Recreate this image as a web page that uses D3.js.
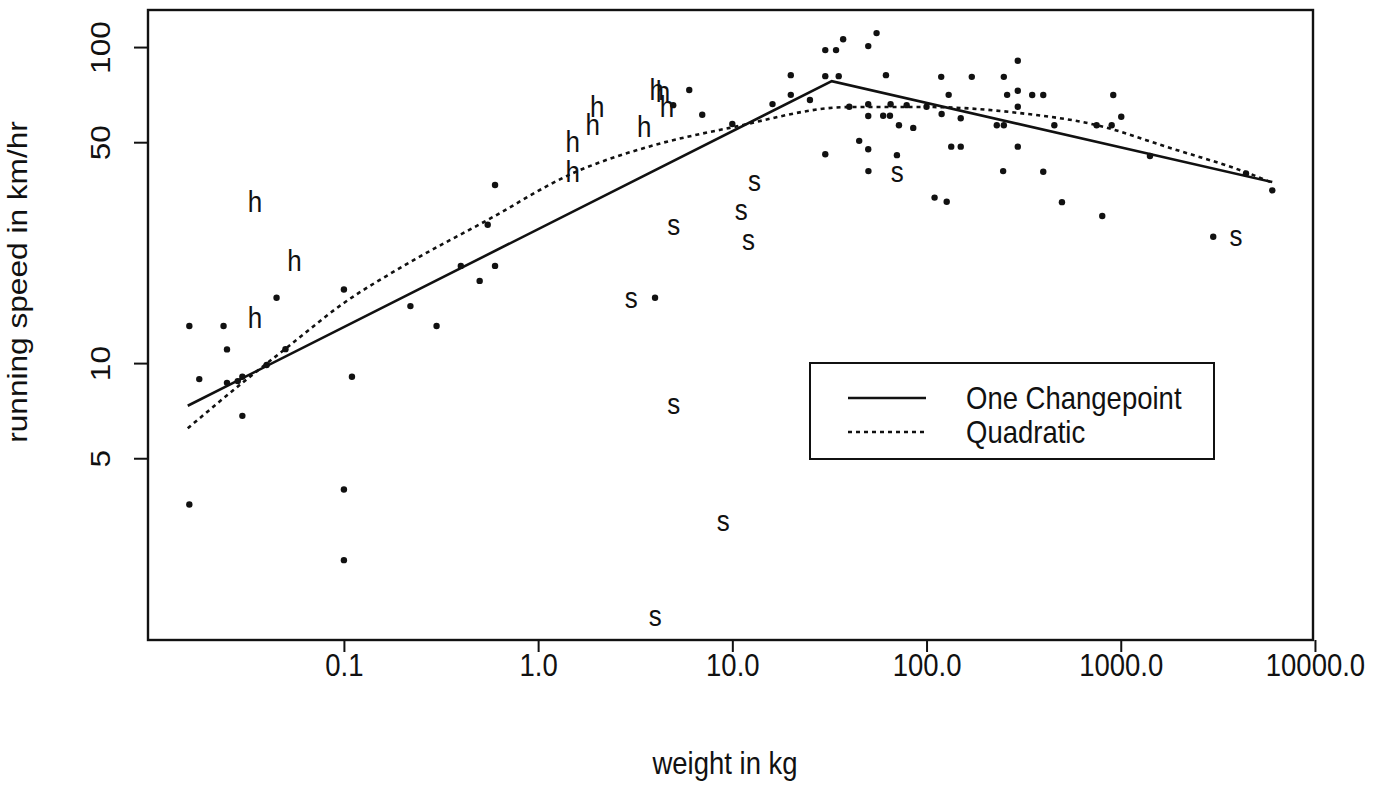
<!DOCTYPE html>
<html>
<head>
<meta charset="utf-8">
<script src="https://cdn.jsdelivr.net/npm/d3@7"></script>
<style>
  html, body { margin: 0; padding: 0; background: #fff; }
  svg { display: block; }
  text { font-family: "Liberation Sans", Arial, Helvetica, sans-serif; fill: #111; }
</style>
</head>
<body>
<svg id="chart" width="1386" height="785"></svg>
<script>
// ---- data ----
const dotWeight = [0.016, 0.024, 0.045, 0.1, 0.025, 0.018, 0.025, 0.03, 0.0284, 0.05, 0.04, 0.03, 0.11, 0.016, 0.1, 0.1,
  0.6, 0.55, 0.6, 0.4, 0.5, 0.22, 0.3, 6.0, 7.0, 4.0, 4.96, 10,
  55.3, 37.2, 50.1, 30.1, 34.2, 20, 30.1, 35.3, 61.8, 119, 171, 250, 295,
  20, 130, 260, 295, 25.1, 16.1, 40, 50.1, 65.3, 79, 100, 295,
  50.1, 59.8, 64.8, 119.6, 150, 72.1, 85.4, 230, 250,
  45, 50.1, 134, 150, 295, 30.1, 70.4, 50.2, 248, 110, 127,
  350, 399, 915, 1006, 455, 751, 898, 399, 498, 803, 1414, 4414, 6028, 2994];
const dotSpeed = [13.1, 13.1, 16.1, 17.1, 11.05, 8.9, 8.66, 9.05, 8.77, 11.07, 9.86, 6.81, 9.05, 3.57, 3.98, 2.38,
  36.6, 27.4, 20.3, 20.3, 18.2, 15.15, 13.1, 73.1, 61.1, 16.1, 65.5, 57.1,
  110.7, 105.8, 100.7, 97.8, 97.8, 81.5, 80.9, 80.9, 81.5, 80.5, 80.5, 80.5, 90.5,
  70.6, 70.6, 70.6, 72.7, 68.0, 66.0, 64.7, 65.9, 65.9, 65.5, 64.7, 64.7,
  60.5, 60.6, 60.6, 61.4, 59.5, 56.6, 55.5, 56.6, 56.6,
  50.5, 47.5, 48.4, 48.4, 48.4, 45.8, 45.5, 40.5, 40.5, 33.4, 32.4,
  70.5, 70.5, 70.5, 60.2, 56.6, 56.6, 56.6, 40.3, 32.3, 29.2, 45.2, 39.8, 35.2, 25.1];

const hopperWeight = [0.0348, 0.0556, 0.0348, 1.506, 1.506, 2.015, 1.908, 3.52, 4.08, 4.39, 4.61];
const hopperSpeed  = [32.3, 21.0, 13.9, 50.0, 40.2, 64.6, 56.6, 56.0, 73.1, 72.1, 64.6];

const slowWeight = [5.0, 3.02, 5.0, 8.98, 4.01, 13.0, 11.1, 12.1, 70.7, 3920];
const slowSpeed  = [27.3, 16.1, 7.42, 3.16, 1.59, 37.7, 30.5, 24.5, 40.4, 25.2];

const changepointWeight = [0.0157, 32.5, 6028];
const changepointSpeed  = [7.33, 78.0, 37.4];

const quadraticWeight = [0.0157, 0.0299, 0.0497, 0.1, 0.2056, 0.551, 1.51, 3.75, 9.69, 40.3, 100.5, 303, 754, 1726, 4790, 6028];
const quadraticSpeed  = [6.22, 8.65, 11.07, 15.5, 20.4, 28.4, 39.9, 48.5, 55.5, 64.6, 64.6, 61.8, 56.6, 48.3, 39.4, 37.2];

const xTicks = [0.1, 1, 10, 100, 1000, 10000];
const xTickLabels = ["0.1", "1.0", "10.0", "100.0", "1000.0", "10000.0"];
const yTicks = [5, 10, 50, 100];
const yTickLabels = ["5", "10", "50", "100"];
const xDomain = [0.0098, 9770];
const yDomain = [1.33, 131];
const legendLabels = ["One Changepoint", "Quadratic"];
const xTitle = "weight in kg";
const yTitle = "running speed in km/hr";

// ---- layout ----
const L = 148, R = 1313, T = 10, B = 640;
const FS = 27.5, SY = 1.15;   // font size and vertical stretch of the scanned figure
const svg = d3.select("#chart");

const x = d3.scaleLog().domain(xDomain).range([L, R]);
const y = d3.scaleLog().domain(yDomain).range([B, T]);

// curves
const line = d3.line().x(d => x(d[0])).y(d => y(d[1]));
svg.append("path")
  .datum(changepointWeight.map((w, i) => [w, changepointSpeed[i]]))
  .attr("d", line).attr("fill", "none").attr("stroke", "#111").attr("stroke-width", 2.6);
svg.append("path")
  .datum(quadraticWeight.map((w, i) => [w, quadraticSpeed[i]]))
  .attr("d", line.curve(d3.curveMonotoneX)).attr("fill", "none").attr("stroke", "#111")
  .attr("stroke-width", 2.6).attr("stroke-dasharray", "4,4");

// points
svg.append("g").selectAll("circle")
  .data(dotWeight.map((w, i) => [w, dotSpeed[i]]))
  .join("circle")
  .attr("cx", d => x(d[0])).attr("cy", d => y(d[1])).attr("r", 3.2).attr("fill", "#111");

function glyphs(ws, ss, ch) {
  svg.append("g").selectAll("text")
    .data(ws.map((w, i) => [w, ss[i]]))
    .join("text")
    .attr("transform", d => `translate(${x(d[0])},${y(d[1])}) scale(1,${SY})`)
    .attr("text-anchor", "middle").attr("dominant-baseline", "central")
    .style("font-size", "26px").text(ch);
}
glyphs(hopperWeight, hopperSpeed, "h");
glyphs(slowWeight, slowSpeed, "s");

// box
svg.append("rect").attr("x", L).attr("y", T).attr("width", R - L).attr("height", B - T)
  .attr("fill", "none").attr("stroke", "#111").attr("stroke-width", 2.4);

// axes
const xAxis = svg.append("g").attr("transform", `translate(0,${B})`)
  .call(d3.axisBottom(x).tickValues(xTicks).tickFormat((d, i) => xTickLabels[i]).tickSize(12).tickSizeOuter(0));
xAxis.select(".domain").remove();
xAxis.selectAll("line").attr("stroke", "#111").attr("stroke-width", 2);
xAxis.selectAll("text").attr("y", null).attr("dy", null)
  .attr("transform", `translate(0,25) scale(1,${SY})`)
  .attr("dominant-baseline", "central").attr("fill", "#111")
  .style("font-size", FS + "px").style("font-family", '"Liberation Sans", Arial, sans-serif');

const yAxis = svg.append("g").attr("transform", `translate(${L},0)`)
  .call(d3.axisLeft(y).tickValues(yTicks).tickFormat((d, i) => yTickLabels[i]).tickSize(14).tickSizeOuter(0));
yAxis.select(".domain").remove();
yAxis.selectAll("line").attr("stroke", "#111").attr("stroke-width", 2);
yAxis.selectAll("text").attr("x", null).attr("dy", null)
  .attr("transform", `translate(-48,0) scale(1,${SY}) rotate(-90)`)
  .attr("text-anchor", "middle").attr("dominant-baseline", "central").attr("fill", "#111")
  .style("font-size", FS + "px").style("font-family", '"Liberation Sans", Arial, sans-serif');

// titles
svg.append("text").attr("transform", `translate(725,763) scale(1,${SY})`)
  .attr("text-anchor", "middle").attr("dominant-baseline", "central")
  .style("font-size", FS + "px").text(xTitle);
svg.append("text").attr("transform", `translate(17,282) scale(1,${SY}) rotate(-90)`)
  .attr("text-anchor", "middle").attr("dominant-baseline", "central")
  .style("font-size", FS + "px").text(yTitle);

// legend
const lg = svg.append("g");
lg.append("rect").attr("x", 810).attr("y", 363).attr("width", 404).attr("height", 96)
  .attr("fill", "#fff").attr("stroke", "#111").attr("stroke-width", 2);
legendLabels.forEach((lab, i) => {
  const yy = 398 + i * 34;
  lg.append("line").attr("x1", 848).attr("x2", 926).attr("y1", yy).attr("y2", yy)
    .attr("stroke", "#111").attr("stroke-width", 2.6)
    .attr("stroke-dasharray", i === 1 ? "4,4" : null);
  lg.append("text").attr("transform", `translate(966,${yy}) scale(1,${SY})`)
    .attr("dominant-baseline", "central").style("font-size", FS + "px").text(lab);
});
</script>
</body>
</html>
